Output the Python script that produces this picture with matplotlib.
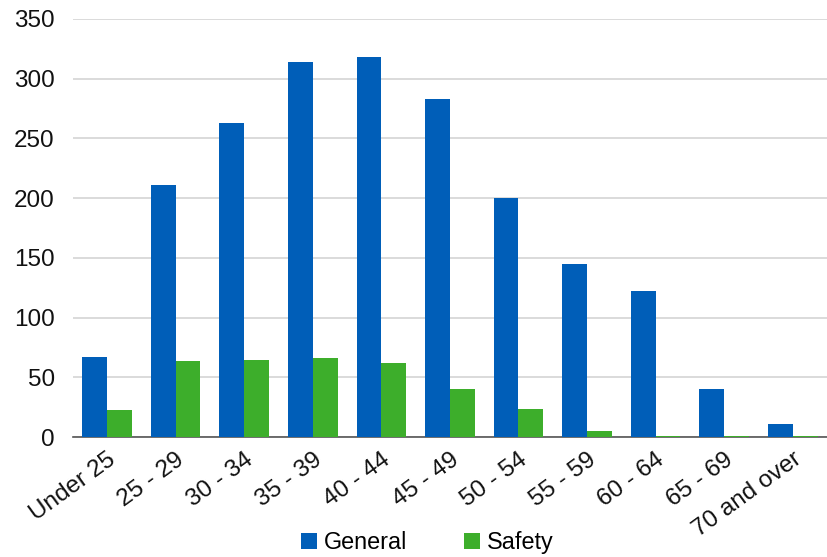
import numpy as np
import matplotlib
matplotlib.use("Agg")
import matplotlib.pyplot as plt

plt.rcParams['font.family'] = ['Liberation Sans', 'DejaVu Sans']

ages = ["Under 25", "25 - 29", "30 - 34", "35 - 39", "40 - 44", "45 - 49",
        "50 - 54", "55 - 59", "60 - 64", "65 - 69", "70 and over"]
general = [67, 211, 263, 314, 318, 283, 200, 145, 122, 40, 11]
safety = [23, 64, 65, 66, 62, 40, 24, 5, 1, 1, 1]

blue = "#005eb8"
green = "#3dae2b"

fig = plt.figure(figsize=(8.27, 5.57), dpi=100)
ax = fig.add_axes([0.088, 0.215, 0.912, 0.751])

x = np.arange(len(ages))
w = 0.362
ax.bar(x - w / 2, general, w, color=blue, label="General", zorder=5)
ax.bar(x + w / 2, safety, w, color=green, label="Safety", zorder=5)

ax.set_xlim(-0.5, len(ages) - 0.5)
ax.set_ylim(0, 350)
ax.set_yticks(range(0, 351, 50))
ax.yaxis.grid(True, color="#d4d4d4", linewidth=1.2, zorder=0)
ax.set_axisbelow(True)

for s in ["top", "right", "left"]:
    ax.spines[s].set_visible(False)
ax.spines["bottom"].set_color("#555555")
ax.spines["bottom"].set_linewidth(1.2)
ax.spines["bottom"].set_zorder(4)

ax.tick_params(axis="both", length=0, labelsize=17.5, colors="#111111")
ax.tick_params(axis="y", pad=13)
ax.tick_params(axis="x", pad=8)
ax.set_xticks(x)
ax.set_xticklabels(ages, rotation=36, ha="right", rotation_mode="anchor")

ax.legend(loc="upper center", bbox_to_anchor=(0.47, -0.203), ncol=2, frameon=False,
          fontsize=16.8, handlelength=0.7, handleheight=0.7, handletextpad=0.3,
          columnspacing=2.4, borderaxespad=0)

fig.savefig("out.png", dpi=100)
